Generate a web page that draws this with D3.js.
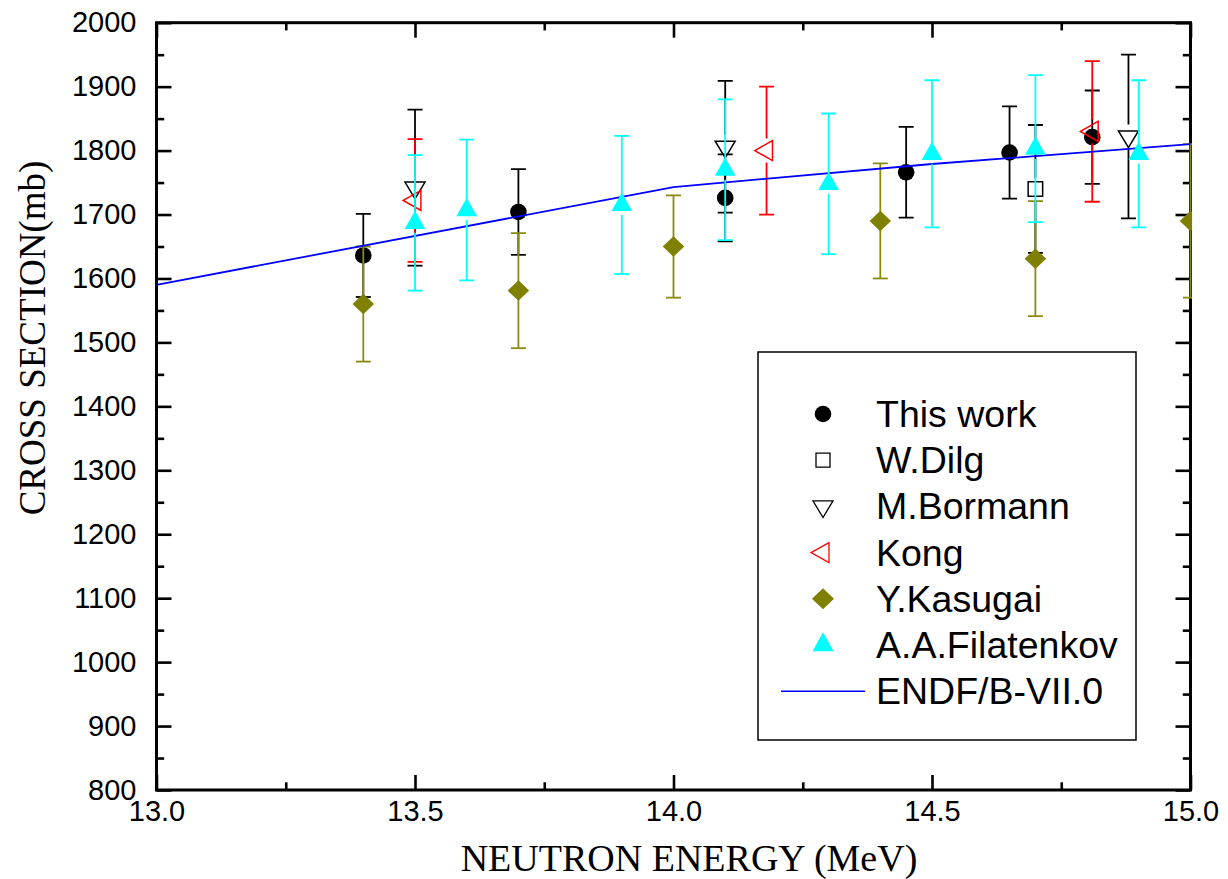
<!DOCTYPE html>
<html>
<head>
<meta charset="utf-8">
<script src="https://cdn.jsdelivr.net/npm/d3@7"></script>
<style>
  html, body { margin: 0; padding: 0; background: #fff; }
  svg { display: block; }
</style>
</head>
<body>
<svg id="chart" width="1228" height="879"></svg>
<script>
// ---------------- DATA ----------------
const xMajorTicks = [13.0, 13.5, 14.0, 14.5, 15.0];
const xMinorTicks = [13.25, 13.75, 14.25, 14.75];
const yMajorTicks = [800, 900, 1000, 1100, 1200, 1300, 1400, 1500, 1600, 1700, 1800, 1900, 2000];
const yMinorTicks = [850, 950, 1050, 1150, 1250, 1350, 1450, 1550, 1650, 1750, 1850, 1950];

const thisWorkE   = [13.4, 13.7, 14.1, 14.45, 14.65, 14.81];
const thisWorkY   = [1636, 1704, 1726, 1766, 1797, 1821];
const thisWorkErr = [65, 67, 68, 71, 72, 73];

const dilgE   = [14.7];
const dilgY   = [1740];
const dilgErr = [100];

const bormannE   = [13.5, 14.1, 14.88];
const bormannY   = [1742, 1806, 1822];
const bormannErr = [122, 103, 128];

const kongE   = [13.5, 14.18, 14.81];
const kongY   = [1722, 1800, 1830];
const kongErr = [96, 100, 110];

const kasugaiE   = [13.4, 13.7, 14.0, 14.4, 14.7, 15.0];
const kasugaiY   = [1560, 1581, 1650, 1690, 1631, 1690];
const kasugaiErr = [90, 90, 80, 90, 90, 120];

const filatE   = [13.5, 13.6, 13.9, 14.1, 14.3, 14.5, 14.7, 14.9];
const filatY   = [1687, 1707, 1715, 1770, 1748, 1795, 1803, 1795];
const filatErr = [106, 110, 108, 110, 110, 115, 115, 115];

const endfE = [13.0, 14.0, 14.5, 15.0];
const endfY = [1590, 1743, 1779, 1810];

const legendLabels = ["This work", "W.Dilg", "M.Bormann", "Kong", "Y.Kasugai", "A.A.Filatenkov", "ENDF/B-VII.0"];

// ---------------- LAYOUT ----------------
const L = 156.5, R = 1190.5, T = 22.7, B = 790;
const svg = d3.select("#chart");
const x = d3.scaleLinear().domain([13, 15]).range([L, R]);
const y = d3.scaleLinear().domain([800, 2000]).range([B, T]);

const sansFont = "'Liberation Sans', Arial, Helvetica, sans-serif";
const serifFont = "'Liberation Serif', 'Times New Roman', Times, serif";

svg.append("defs").append("clipPath").attr("id", "plotclip")
  .append("rect").attr("x", L).attr("y", T).attr("width", R - L + 1.6).attr("height", B - T);

// ---------------- AXES (drawn first) ----------------
function styleAxis(g) {
  g.select(".domain").remove();
  g.selectAll(".tick line").attr("stroke", "#000").attr("stroke-width", 2.6);
  g.selectAll(".tick text").attr("font-family", sansFont).attr("font-size", 29).attr("fill", "#000");
}
svg.append("g").attr("transform", `translate(0,${B})`)
  .call(d3.axisBottom(x).tickValues(xMajorTicks).tickFormat(d3.format(".1f")).tickSize(-15).tickPadding(10))
  .call(styleAxis);
svg.append("g").attr("transform", `translate(0,${B})`)
  .call(d3.axisBottom(x).tickValues(xMinorTicks).tickFormat("").tickSize(-7.7))
  .call(styleAxis);
svg.append("g").attr("transform", `translate(0,${T})`)
  .call(d3.axisTop(x).tickValues(xMajorTicks).tickFormat("").tickSize(-15))
  .call(styleAxis);
svg.append("g").attr("transform", `translate(0,${T})`)
  .call(d3.axisTop(x).tickValues(xMinorTicks).tickFormat("").tickSize(-7.7))
  .call(styleAxis);
svg.append("g").attr("transform", `translate(${L},0)`)
  .call(d3.axisLeft(y).tickValues(yMajorTicks).tickFormat(d3.format("d")).tickSize(-15).tickPadding(20))
  .call(styleAxis);
svg.append("g").attr("transform", `translate(${L},0)`)
  .call(d3.axisLeft(y).tickValues(yMinorTicks).tickFormat("").tickSize(-7.7))
  .call(styleAxis);
svg.append("g").attr("transform", `translate(${R},0)`)
  .call(d3.axisRight(y).tickValues(yMajorTicks).tickFormat("").tickSize(-15))
  .call(styleAxis);
svg.append("g").attr("transform", `translate(${R},0)`)
  .call(d3.axisRight(y).tickValues(yMinorTicks).tickFormat("").tickSize(-7.7))
  .call(styleAxis);
svg.append("rect").attr("x", L).attr("y", T).attr("width", R - L).attr("height", B - T)
  .attr("fill", "none").attr("stroke", "#000").attr("stroke-width", 3);

// ---------------- SYMBOLS ----------------
function circlePath(r) { const p = d3.path(); p.arc(0, 0, r, 0, 2 * Math.PI); p.closePath(); return p.toString(); }
function squarePath(s) { const h = s / 2; return `M${-h},${-h}H${h}V${h}H${-h}Z`; }
function upTriPath(w, h) { return `M0,${-2 * h / 3}L${w / 2},${h / 3}L${-w / 2},${h / 3}Z`; }
function downTriPath(w, h) { return `M${-w / 2},${-h / 3}L${w / 2},${-h / 3}L0,${2 * h / 3}Z`; }
function leftTriPath(w, h) { return `M${-2 * w / 3},0L${w / 3},${-h / 2}L${w / 3},${h / 2}Z`; }
function diamondPath(w, h) { return `M0,${-h / 2}L${w / 2},0L0,${h / 2}L${-w / 2},0Z`; }

const styles = {
  thisWork: { path: circlePath(8.3), fill: "#000", stroke: "none", sw: 0, bar: "#000" },
  dilg:     { path: squarePath(14.5), fill: "none", stroke: "#000", sw: 1.5, bar: "#000" },
  bormann:  { path: downTriPath(20, 16.7), fill: "none", stroke: "#000", sw: 1.5, bar: "#000" },
  kong:     { path: leftTriPath(17.7, 20), fill: "none", stroke: "#ff0000", sw: 1.5, bar: "#ff0000" },
  kasugai:  { path: diamondPath(21.5, 20.5), fill: "#808000", stroke: "none", sw: 0, bar: "#8a8a10" },
  filat:    { path: upTriPath(20.7, 18.3), fill: "#00ffff", stroke: "none", sw: 0, bar: "#00ffff" },
};

const plot = svg.append("g").attr("clip-path", "url(#plotclip)");

function drawSeries(E, V, Err, st, gap) {
  const g = plot.append("g");
  E.forEach((e, i) => {
    const cx = x(e), cy = y(V[i]);
    const yt = y(V[i] + Err[i]), yb = y(V[i] - Err[i]);
    const bar = g.append("g").attr("stroke", st.bar).attr("stroke-width", 1.8).attr("fill", "none");
    bar.append("line").attr("x1", cx).attr("x2", cx).attr("y1", yt).attr("y2", cy - gap);
    bar.append("line").attr("x1", cx).attr("x2", cx).attr("y1", cy + gap).attr("y2", yb);
    bar.append("line").attr("x1", cx - 7.5).attr("x2", cx + 7.5).attr("y1", yt).attr("y2", yt);
    bar.append("line").attr("x1", cx - 7.5).attr("x2", cx + 7.5).attr("y1", yb).attr("y2", yb);
  });
  const mg = g.append("g").attr("clip-path", null);
  E.forEach((e, i) => {
    const cx = x(e);
    const m = mg.append("path").attr("d", st.path)
      .attr("transform", `translate(${cx},${y(V[i])})`)
      .attr("fill", st.fill).attr("stroke", st.stroke).attr("stroke-width", st.sw);
  });
}

drawSeries(thisWorkE, thisWorkY, thisWorkErr, styles.thisWork, 0);
drawSeries(dilgE, dilgY, dilgErr, styles.dilg, 11);
drawSeries(bormannE, bormannY, bormannErr, styles.bormann, 12);
drawSeries(kongE, kongY, kongErr, styles.kong, 12);
drawSeries(kasugaiE, kasugaiY, kasugaiErr, styles.kasugai, 0);

const lineGen = d3.line().x(d => x(d[0])).y(d => y(d[1]));
plot.append("path").datum(endfE.map((e, i) => [e, endfY[i]]))
  .attr("d", lineGen).attr("fill", "none").attr("stroke", "#0000ff").attr("stroke-width", 1.8);

drawSeries(filatE, filatY, filatErr, styles.filat, 10);

// axis titles
svg.append("text").attr("x", 689).attr("y", 871)
  .attr("text-anchor", "middle").attr("font-family", serifFont).attr("font-size", 38)
  .attr("fill", "#000").text("NEUTRON ENERGY (MeV)");
svg.append("text").attr("transform", "translate(45,338) rotate(-90)")
  .attr("text-anchor", "middle").attr("font-family", serifFont).attr("font-size", 37)
  .attr("fill", "#000").text("CROSS SECTION(mb)");

// ---------------- LEGEND ----------------
const lg = svg.append("g");
lg.append("rect").attr("x", 758).attr("y", 352).attr("width", 378).attr("height", 388)
  .attr("fill", "#fff").attr("stroke", "#000").attr("stroke-width", 1.5);
const legendStyles = [
  { path: circlePath(8.3), fill: "#000", stroke: "none", sw: 0 },
  { path: squarePath(14), fill: "none", stroke: "#000", sw: 1.3 },
  { path: downTriPath(20, 16.7), fill: "none", stroke: "#000", sw: 1.3 },
  { path: leftTriPath(18, 20), fill: "none", stroke: "#ff0000", sw: 1.3 },
  { path: diamondPath(22, 21), fill: "#808000", stroke: "none", sw: 0 },
  { path: upTriPath(21, 19), fill: "#00ffff", stroke: "none", sw: 0 },
  null
];
legendLabels.forEach((lab, i) => {
  const cy = 414 + i * 46.2;
  const st = legendStyles[i];
  if (st) {
    lg.append("path").attr("d", st.path).attr("transform", `translate(823,${cy})`)
      .attr("fill", st.fill).attr("stroke", st.stroke).attr("stroke-width", st.sw);
  } else {
    lg.append("line").attr("x1", 781).attr("x2", 865).attr("y1", cy).attr("y2", cy)
      .attr("stroke", "#0000ff").attr("stroke-width", 1.4);
  }
  lg.append("text").attr("x", 876).attr("y", cy + 13)
    .attr("font-family", sansFont).attr("font-size", 37.5).attr("fill", "#000").text(lab);
});
</script>
</body>
</html>
